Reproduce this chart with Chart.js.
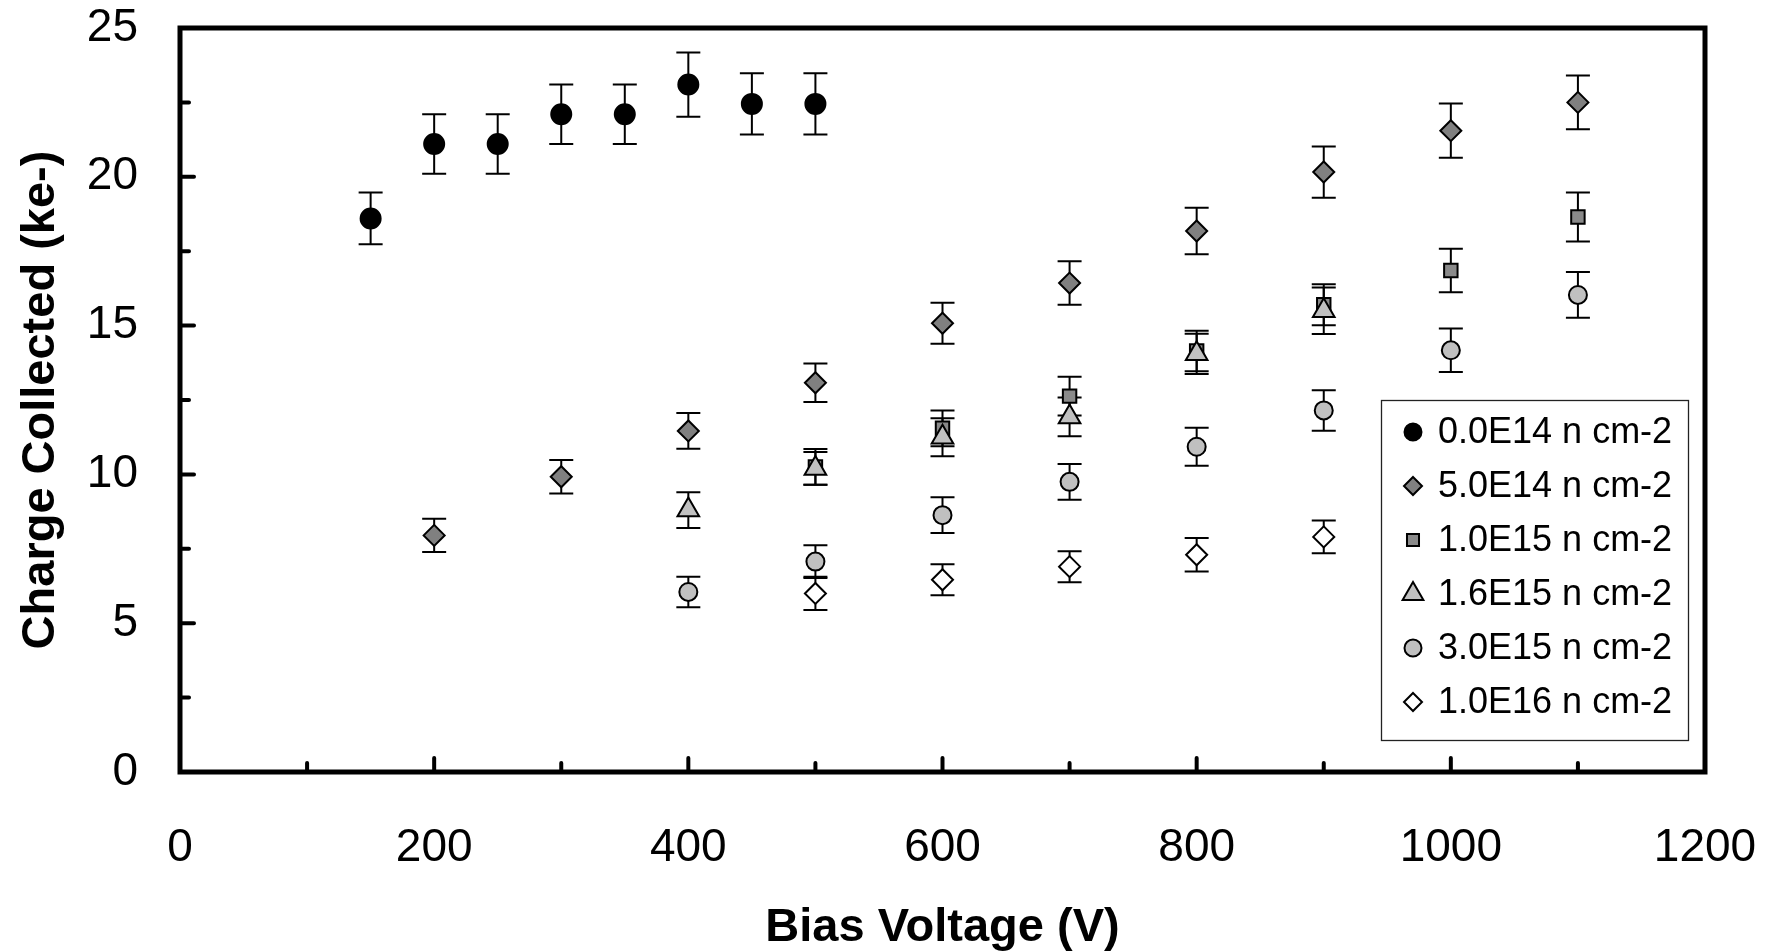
<!DOCTYPE html>
<html>
<head>
<meta charset="utf-8">
<title>Charge Collected vs Bias Voltage</title>
<script src="https://cdn.jsdelivr.net/npm/chart.js@4.4.1/dist/chart.umd.min.js"></script>
<style>
  html, body { margin: 0; padding: 0; background: #fff; }
  #wrap { width: 1771px; height: 952px; }
</style>
</head>
<body>
<div id="wrap"><canvas id="chart" width="1771" height="952"></canvas></div>
<script>
// Data (bias voltage in V, charge in ke-, error = half bar length)
const labels = ['0.0E14 n cm-2', '5.0E14 n cm-2', '1.0E15 n cm-2', '1.6E15 n cm-2', '3.0E15 n cm-2', '1.0E16 n cm-2'];

const volts0 = [150, 200, 250, 300, 350, 400, 450, 500];
const charge0 = [18.6, 21.1, 21.1, 22.1, 22.1, 23.1, 22.45, 22.45];
const err0 = [0.87, 1.0, 1.0, 1.0, 1.0, 1.08, 1.03, 1.03];

const volts1 = [200, 300, 400, 500, 600, 700, 800, 900, 1000, 1100];
const charge1 = [7.95, 9.92, 11.46, 13.08, 15.08, 16.43, 18.18, 20.16, 21.55, 22.5];
const err1 = [0.56, 0.56, 0.6, 0.65, 0.69, 0.73, 0.78, 0.86, 0.91, 0.9];

const volts2 = [500, 600, 700, 800, 900, 1000, 1100];
const charge2 = [10.25, 11.55, 12.63, 14.15, 15.7, 16.85, 18.65];
const err2 = [0.6, 0.6, 0.65, 0.68, 0.69, 0.73, 0.82];

const volts3 = [400, 500, 600, 700, 800, 900];
const charge3 = [8.8, 10.2, 11.25, 11.93, 14.05, 15.5];
const err3 = [0.6, 0.55, 0.64, 0.65, 0.68, 0.78];

const volts4 = [400, 500, 600, 700, 800, 900, 1000, 1100];
const charge4 = [6.05, 7.07, 8.63, 9.75, 10.93, 12.15, 14.17, 16.03];
const err4 = [0.51, 0.55, 0.6, 0.6, 0.64, 0.68, 0.73, 0.77];

const volts5 = [500, 600, 700, 800, 900];
const charge5 = [6.0, 6.46, 6.9, 7.3, 7.9];
const err5 = [0.56, 0.52, 0.52, 0.56, 0.55];

const xTicks = [0, 200, 400, 600, 800, 1000, 1200];
const xMinor = [100, 300, 500, 700, 900, 1100];
const yTicks = [0, 5, 10, 15, 20, 25];
const yMinor = [2.5, 7.5, 12.5, 17.5, 22.5];

const FONT = "'Liberation Sans', Arial, sans-serif";
Chart.defaults.font.family = FONT;
Chart.defaults.color = '#000';

function series(label, xs, ys, errs, style, radius, legendRadius, fill, order) {
    return {
        label: label,
        data: xs.map((x, i) => ({ x: x, y: ys[i] })),
        errors: errs,
        legendRadius: legendRadius,
        pointStyle: style,
        pointRadius: radius,
        pointHoverRadius: radius,
        pointBackgroundColor: fill,
        pointBorderColor: '#000',
        pointBorderWidth: 2,
        showLine: false,
        order: order
    };
}

// marker for the legend box, same shapes as chart.js point styles
function drawMarker(ctx, style, r, x, y, fill) {
    ctx.beginPath();
    if (style === 'circle') {
        ctx.arc(x, y, r, 0, Math.PI * 2);
    } else if (style === 'rectRot') {
        ctx.moveTo(x, y - r); ctx.lineTo(x + r, y); ctx.lineTo(x, y + r); ctx.lineTo(x - r, y);
        ctx.closePath();
    } else if (style === 'rect') {
        const s = r * Math.SQRT1_2;
        ctx.rect(x - s, y - s, 2 * s, 2 * s);
    } else if (style === 'triangle') {
        for (let k = 0; k < 3; k++) {
            const a = k * 2 * Math.PI / 3;
            const px = x + Math.sin(a) * r, py = y - Math.cos(a) * r;
            if (k === 0) ctx.moveTo(px, py); else ctx.lineTo(px, py);
        }
        ctx.closePath();
    }
    ctx.fillStyle = fill;
    ctx.fill();
    ctx.lineWidth = 2;
    ctx.strokeStyle = '#000';
    ctx.stroke();
}

const framePlugin = {
    id: 'frame',
    beforeDatasetsDraw(chart) {
        // error bars sit behind the markers
        const ctx = chart.ctx, xs = chart.scales.x, ys = chart.scales.y;
        ctx.save();
        ctx.strokeStyle = '#000';
        ctx.lineWidth = 2;
        chart.data.datasets.forEach(ds => {
            ds.data.forEach((p, i) => {
                const e = ds.errors[i];
                const px = xs.getPixelForValue(p.x);
                const top = ys.getPixelForValue(p.y + e);
                const bot = ys.getPixelForValue(p.y - e);
                ctx.beginPath();
                ctx.moveTo(px, top); ctx.lineTo(px, bot);
                ctx.moveTo(px - 12, top); ctx.lineTo(px + 12, top);
                ctx.moveTo(px - 12, bot); ctx.lineTo(px + 12, bot);
                ctx.stroke();
            });
        });
        ctx.restore();
    },
    afterDraw(chart) {
        const ctx = chart.ctx, a = chart.chartArea;
        const xs = chart.scales.x, ys = chart.scales.y;
        ctx.save();
        // inward ticks
        ctx.strokeStyle = '#000';
        ctx.lineWidth = 4;
        ctx.lineCap = 'round';
        ctx.beginPath();
        yTicks.slice(1, -1).forEach(v => { const py = ys.getPixelForValue(v); ctx.moveTo(a.left, py); ctx.lineTo(a.left + 14, py); });
        yMinor.forEach(v => { const py = ys.getPixelForValue(v); ctx.moveTo(a.left, py); ctx.lineTo(a.left + 9, py); });
        xTicks.slice(1, -1).forEach(v => { const px = xs.getPixelForValue(v); ctx.moveTo(px, a.bottom); ctx.lineTo(px, a.bottom - 14); });
        xMinor.forEach(v => { const px = xs.getPixelForValue(v); ctx.moveTo(px, a.bottom); ctx.lineTo(px, a.bottom - 9); });
        ctx.stroke();
        // box round the plot
        ctx.lineCap = 'butt';
        ctx.lineWidth = 5;
        ctx.strokeRect(a.left, a.top, a.right - a.left, a.bottom - a.top);

        // legend box
        const lx = 1381, ly = 400, lw = 307, lh = 340;
        ctx.fillStyle = '#fff';
        ctx.fillRect(lx, ly, lw, lh);
        ctx.lineWidth = 1.3;
        ctx.strokeStyle = '#222';
        ctx.strokeRect(lx + 0.5, ly + 0.5, lw, lh);
        ctx.font = '36px ' + FONT;
        ctx.textBaseline = 'middle';
        ctx.textAlign = 'left';
        chart.data.datasets.forEach((ds, i) => {
            const rowY = 432 + i * 54;
            drawMarker(ctx, ds.pointStyle, ds.legendRadius, 1413, rowY, ds.pointBackgroundColor);
            ctx.fillStyle = '#000';
            ctx.fillText(ds.label, 1438, rowY + 1);
        });
        ctx.restore();
    }
};

new Chart(document.getElementById('chart'), {
    type: 'scatter',
    data: {
        datasets: [
            series(labels[0], volts0, charge0, err0, 'circle', 10, 8.5, '#000000', 5),
            series(labels[1], volts1, charge1, err1, 'rectRot', 10.5, 9, '#808080', 4),
            series(labels[2], volts2, charge2, err2, 'rect', 9.5, 8.5, '#8a8a8a', 3),
            series(labels[3], volts3, charge3, err3, 'triangle', 12.5, 12, '#c0c0c0', 2),
            series(labels[4], volts4, charge4, err4, 'circle', 9, 8.5, '#c0c0c0', 1),
            series(labels[5], volts5, charge5, err5, 'rectRot', 10.5, 9, '#ffffff', 0)
        ]
    },
    options: {
        responsive: false,
        animation: false,
        layout: { padding: { top: 28, right: 66, left: 0, bottom: 0 } },
        plugins: {
            legend: { display: false },
            tooltip: { enabled: false }
        },
        scales: {
            x: {
                type: 'linear',
                min: 0,
                max: 1200,
                afterBuildTicks: scale => { scale.ticks = xTicks.map(v => ({ value: v })); },
                afterFit: scale => {
                    scale.height = 180;
                    scale.paddingLeft = 0;
                    scale.paddingRight = 0;
                },
                grid: { display: false, drawTicks: false },
                border: { display: false },
                ticks: { font: { size: 46 }, padding: 49, maxRotation: 0, autoSkip: false, callback: v => String(v) },
                title: {
                    display: true,
                    text: 'Bias Voltage (V)',
                    font: { size: 47, weight: 'bold', lineHeight: 1 },
                    padding: 0
                }
            },
            y: {
                min: 0,
                max: 25,
                afterBuildTicks: scale => { scale.ticks = yTicks.map(v => ({ value: v })); },
                afterFit: scale => {
                    scale.width = 180;
                    scale.paddingTop = 0;
                    scale.paddingBottom = 0;
                },
                grid: { display: false, drawTicks: false },
                border: { display: false },
                ticks: { font: { size: 46 }, padding: 42, callback: v => String(v) },
                title: {
                    display: true,
                    text: 'Charge Collected (ke-)',
                    font: { size: 47, weight: 'bold', lineHeight: 1 },
                    padding: { top: 18, bottom: 0 }
                }
            }
        }
    },
    plugins: [framePlugin]
});
</script>
</body>
</html>
